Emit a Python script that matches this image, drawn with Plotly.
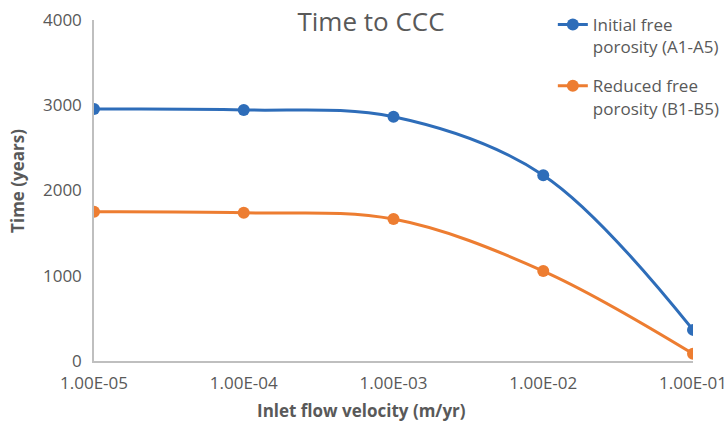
import plotly.graph_objects as go

# Inlet flow velocity (m/yr) and time to CCC (years)
velocity = [1e-5, 1e-4, 1e-3, 1e-2, 1e-1]
tick_labels = ["1.00E-05", "1.00E-04", "1.00E-03", "1.00E-02", "1.00E-01"]
initial_porosity = [2955, 2945, 2865, 2180, 365]
reduced_porosity = [1750, 1738, 1665, 1055, 85]

series_names = ["Initial free<br>porosity (A1-A5)", "Reduced free<br>porosity (B1-B5)"]
series_colors = ["#2E6DB9", "#ED7D31"]

grey_text = "#595959"
font_family = "Open Sans, Lato, sans-serif"

fig = go.Figure()
for i, (name, values, color) in enumerate(zip(series_names, [initial_porosity, reduced_porosity], series_colors)):
    fig.add_trace(go.Scatter(
        x=velocity, y=values, name=name, legendgroup=f"g{i}",
        mode="lines+markers",
        line=dict(color=color, width=3, shape="spline", smoothing=1),
        marker=dict(color=color, size=12),
    ))

fig.update_layout(
    width=726, height=425,
    margin=dict(l=94, r=33, t=20, b=64, autoexpand=False),
    paper_bgcolor="white", plot_bgcolor="white",
    font=dict(family=font_family, color=grey_text, size=17),
    title=dict(text="Time to CCC", x=0.511, xanchor="center", y=0.948, yanchor="middle",
               font=dict(size=26, color=grey_text)),
    showlegend=True,
    legend=dict(x=0.766, xanchor="left", y=1.038, yanchor="top", valign="top",
                bgcolor="rgba(0,0,0,0)", font=dict(size=17, color=grey_text),
                itemwidth=30, tracegroupgap=14),
    xaxis=dict(
        type="log", range=[-5, -1],
        tickvals=velocity, ticktext=tick_labels,
        showgrid=False, zeroline=False,
        showline=True, linecolor="#BFBFBF", linewidth=1.5,
        ticks="", ticklabelstandoff=6, ticklabeloverflow="allow",
        tickfont=dict(size=17, color=grey_text),
    ),
    yaxis=dict(
        range=[0, 4000], tickvals=[0, 1000, 2000, 3000, 4000],
        showgrid=False, zeroline=False,
        showline=True, linecolor="#BFBFBF", linewidth=1.5,
        ticks="", ticklabelstandoff=7, tickfont=dict(size=17, color=grey_text),
    ),
    annotations=[
        dict(text="<b>Inlet flow velocity (m/yr)</b>", xref="paper", yref="paper",
             x=0.447, y=-0.1437, xanchor="center", yanchor="middle", showarrow=False,
             font=dict(size=17, color=grey_text)),
        dict(text="<b>Time (years)</b>", xref="paper", yref="paper", textangle=-90,
             x=-0.127, y=0.528, xanchor="center", yanchor="middle", showarrow=False,
             font=dict(size=17, color=grey_text)),
    ],
)

fig.write_html("out.html")
